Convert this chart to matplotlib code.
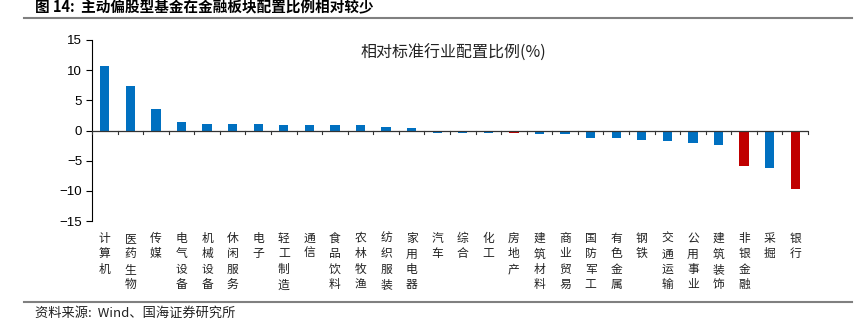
import numpy as np
import matplotlib.pyplot as plt

plt.rcParams['font.family'] = ['Noto Sans CJK SC', 'DejaVu Sans']
plt.rcParams['axes.unicode_minus'] = True

# 行业及相对标准行业配置比例(%)
industries = ['计算机', '医药生物', '传媒', '电气设备', '机械设备', '休闲服务', '电子',
              '轻工制造', '通信', '食品饮料', '农林牧渔', '纺织服装', '家用电器', '汽车',
              '综合', '化工', '房地产', '建筑材料', '商业贸易', '国防军工', '有色金属',
              '钢铁', '交通运输', '公用事业', '建筑装饰', '非银金融', '采掘', '银行']
values = [10.7, 7.4, 3.6, 1.4, 1.15, 1.15, 1.15, 0.85, 0.85, 0.85, 0.85, 0.6, 0.35, -0.4,
          -0.4, -0.35, -0.35, -0.65, -0.65, -1.2, -1.2, -1.5, -1.8, -2.1, -2.35, -5.9,
          -6.15, -9.65]
finance = ['房地产', '非银金融', '银行']

blue = '#0070C0'
red = '#C00000'
colors = [red if c in finance else blue for c in industries]

fig = plt.figure(figsize=(8.56, 3.34), dpi=100)
ax = fig.add_axes([92 / 856, 113 / 334, 716 / 856, 181 / 334])

x = np.arange(len(industries))
ax.bar(x, values, width=0.36, color=colors, zorder=2)

ax.set_xlim(-0.5, len(industries) - 0.5)
ax.set_ylim(-15, 15)
ax.set_yticks([-15, -10, -5, 0, 5, 10, 15])
ax.set_yticklabels(['\u221215', '\u221210', '\u22125', '0', '5', '10', '15'],
                   family=['Liberation Sans', 'DejaVu Sans'], fontsize=9.5)
ax.tick_params(axis='y', direction='out', length=4, width=0.8, pad=3)

for s in ['top', 'right', 'bottom']:
    ax.spines[s].set_visible(False)
ax.spines['left'].set_linewidth(0.8)
ax.axhline(0, color='#333333', lw=0.9, zorder=3)

# 分类间刻度线
ax.set_xticks([])
for b in np.arange(-0.5, len(industries) + 0.5, 1.0):
    ax.plot([b, b], [0, -0.55], color='#333333', lw=0.8, zorder=3, clip_on=False)

# 竖排行业名
xt = ax.get_xaxis_transform()
for i, name in enumerate(industries):
    ax.text(i, -0.06, '\n'.join(name), transform=xt, ha='center', va='top',
            fontsize=8.5, linespacing=1.25, color='#222222')

ax.text(453 / 856, 1 - 53 / 334, '相对标准行业配置比例(%)', transform=fig.transFigure,
        ha='center', va='center', fontsize=11.5, color='#222222')

fig.text(35 / 856, 1 - 7 / 334, '图 14:  主动偏股型基金在金融板块配置比例相对较少',
         ha='left', va='center', fontsize=10.5, fontweight='bold')
fig.add_artist(plt.Line2D([24 / 856, 852 / 856], [1 - 18 / 334] * 2, color='#808080', lw=1.5))
fig.add_artist(plt.Line2D([24 / 856, 852 / 856], [1 - 302 / 334] * 2, color='#808080', lw=1.5))
fig.text(35 / 856, 1 - 313 / 334, '资料来源:  Wind、国海证券研究所', ha='left', va='center',
         fontsize=9.5, color='#222222')

fig.savefig('out.png', dpi=100)
